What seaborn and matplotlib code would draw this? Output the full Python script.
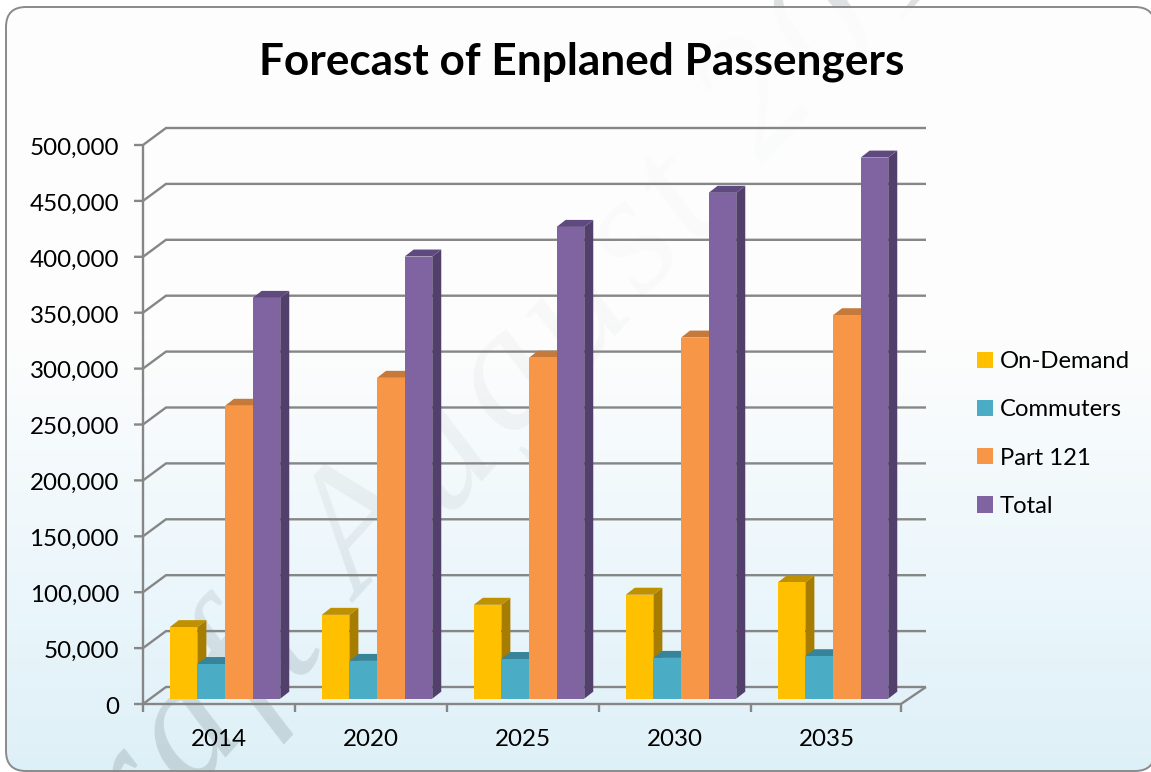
import numpy as np
import pandas as pd
import matplotlib
matplotlib.use("Agg")
import matplotlib.pyplot as plt
import seaborn as sns
from matplotlib.font_manager import FontProperties
from matplotlib.patches import Polygon, FancyBboxPatch
from matplotlib.textpath import TextToPath
from matplotlib.transforms import ScaledTranslation

years = ["2014", "2020", "2025", "2030", "2035"]
on_demand = [64000, 75000, 84000, 93000, 104000]
commuters = [31000, 33800, 35500, 36500, 38000]
part_121 = [262000, 287000, 305000, 323000, 343000]
total = [358500, 395500, 422000, 452500, 484000]
series_names = ["On-Demand", "Commuters", "Part 121", "Total"]
y_ticks = list(range(0, 500001, 50000))

front_colors = ["#FFC000", "#4BACC6", "#F79646", "#8064A2"]
side_colors = ["#A67D00", "#31707F", "#C0743A", "#523F6C"]
top_colors = ["#BF9000", "#37849A", "#C57A3C", "#5F4A80"]

W, H = 1151, 772
sns.set_theme(style="white")
plt.rcParams["font.family"] = ["Lato", "DejaVu Sans"]
fig = plt.figure(figsize=(W / 100, H / 100), dpi=100, facecolor="white")

# background panel: opaque gradient, watermark, then a veil that fades the watermark upwards
bg = fig.add_axes([0, 0, 1, 1], zorder=0)
bg.set_xlim(0, W)
bg.set_ylim(H, 0)
bg.axis("off")
stops_y = [0, 340, 600, 772]
stops_r = [254, 253, 234, 222]
stops_g = [254, 253, 246, 240]
stops_b = [254, 253, 251, 247]
yy = np.arange(H)
grad = np.stack([np.interp(yy, stops_y, c) for c in (stops_r, stops_g, stops_b)], axis=1) / 255
veil_a = np.interp(yy, [0, 250, 530, 700, 772], [0.97, 0.92, 0.62, 0.1, 0.0])
im = bg.imshow(grad[:, None, :], extent=[0, W, H, 0], aspect="auto", zorder=1)
veil = bg.imshow(np.concatenate([grad, veil_a[:, None]], axis=1)[:, None, :], extent=[0, W, H, 0], aspect="auto", zorder=3)
bg.set_xlim(0, W)
bg.set_ylim(H, 0)
# a nearly invisible fill keeps the renderer from breaking the outline's curves at the figure edge
panel = FancyBboxPatch((26, 27), 1109, 724, boxstyle="round,pad=20,rounding_size=20",
                       fc=(1, 1, 1, 0.004), ec="#8a8a8a", lw=1.4, zorder=4)
bg.add_patch(panel)
im.set_clip_path(panel)
veil.set_clip_path(panel)

# watermark, set letter by letter along a rising baseline with wide tracking
wm_size = 125
wm_prop = FontProperties(family="Liberation Serif", style="italic", size=wm_size)
wm_angle = np.deg2rad(47.5)
wm_text = "Draft August 2015"
t2p = TextToPath()
adv_px = [t2p.get_text_width_height_descent(c, wm_prop, ismath=False)[0] * 100 / 72 * 1.13
          if c != " " else wm_size * 100 / 72 * 0.25 * 1.13 for c in wm_text]
pos = -sum(adv_px[:wm_text.index("A")])
for c, a in zip(wm_text, adv_px):
    px = 362 + pos * np.cos(wm_angle)
    py = 603 - pos * np.sin(wm_angle)
    pos += a
    if c == " " or px > W + 60 or py < -60 or py > H + 130 or px < -130:
        continue
    bg.text(px, py, c, rotation=47.5, rotation_mode="anchor", ha="left", va="baseline",
            fontproperties=wm_prop, color="#3a4a50", alpha=0.17, zorder=2)

# bars
ax = fig.add_axes([149 / W, (H - 698.7) / H, 760 / W, 559 / H], zorder=1)
ax.patch.set_alpha(0)
df = pd.DataFrame({
    "year": years * 4,
    "series": np.repeat(series_names, 5),
    "value": on_demand + commuters + part_121 + total,
})
sns.barplot(data=df, x="year", y="value", hue="series", palette=front_colors, saturation=1,
            width=0.727, gap=0, ax=ax, linewidth=0)
ax.set_xlim(-0.5, 4.5)
ax.set_ylim(0, 500000)
ax.set_xlabel("")
ax.set_ylabel("")
sns.despine(ax=ax, left=True, bottom=True)
ax.grid(False)

ux = 5 / 760
uy = 500000 / 559


def P(x, y, dx=0.0, dy=0.0):
    return (x + dx * ux, y + dy * uy)


for i, cont in enumerate(ax.containers):
    for bar in cont:
        x0, x1 = bar.get_x(), bar.get_x() + bar.get_width()
        h = bar.get_height()
        bar.set_zorder(5 + i)
        side = [P(x1, 0), P(x1, 0, 9, 7), P(x1, h, 9, 7), P(x1, h)]
        top = [P(x0, h), P(x1, h), P(x1, h, 9, 7), P(x0, h, 9, 7)]
        ax.add_patch(Polygon(side, fc=side_colors[i], ec="none", zorder=4.8 + i, clip_on=False))
        ax.add_patch(Polygon(top, fc=top_colors[i], ec="none", zorder=4.8 + i, clip_on=False))

# frame (front plane, depth, back wall)
FX, FY = -6, -5.3
BX, BY = 17, 11.7
line = dict(color="#868686", lw=1.7, clip_on=False, zorder=2, solid_capstyle="butt", solid_joinstyle="miter")
xl, xr = -0.5, 4.5
for v in y_ticks:
    pts = [P(xl, v, FX - 9, FY), P(xl, v, FX, FY), P(xl, v, BX, BY), P(xr, v, BX, BY)]
    ax.plot(*zip(*pts), **line)
ax.plot(*zip(P(xl, 0, FX, FY), P(xl, 500000, FX, FY)), **line)
floor = [P(xl, 0, FX, FY), P(xr, 0, FX - 2, FY), P(xr, 0, BX, BY)]
ax.plot(*zip(*floor), **line)
for k in range(6):
    c = xl + k if k < 5 else xr
    extra = -2 if k == 5 else 0
    ax.plot(*zip(P(c, 0, FX + extra, FY), P(c, 0, FX + extra, FY - 8)), **line)

# tick labels
ax.set_yticks(y_ticks)
ax.set_yticklabels([f"{v:,}" for v in y_ticks])
ax.tick_params(axis="y", length=0, pad=21.6, labelsize=17.4, labelcolor="black")
ax.tick_params(axis="x", length=0, pad=21.5, labelsize=17.4, labelcolor="black")
for lab in ax.get_yticklabels():
    lab.set_transform(lab.get_transform() + ScaledTranslation(0, -6.5 / 100, fig.dpi_scale_trans))
for lab in ax.get_xticklabels():
    lab.set_transform(lab.get_transform() + ScaledTranslation(-6 / 100, 0, fig.dpi_scale_trans))

fig.text(582 / W, 1 - 62 / H, "Forecast of Enplaned Passengers", ha="center", va="center",
         fontsize=31.8, fontweight="bold", color="black", zorder=5)

handles, labels = ax.get_legend_handles_labels()
ax.legend(handles, labels, loc="center left", bbox_to_anchor=(977 / W, 1 - 434 / H),
          bbox_transform=fig.transFigure, frameon=False, fontsize=17.2, handlelength=0.66, handleheight=0.66,
          handletextpad=0.3, labelspacing=1.14, borderpad=0, borderaxespad=0, labelcolor="black")

fig.savefig("out.png", dpi=100, facecolor="white")
